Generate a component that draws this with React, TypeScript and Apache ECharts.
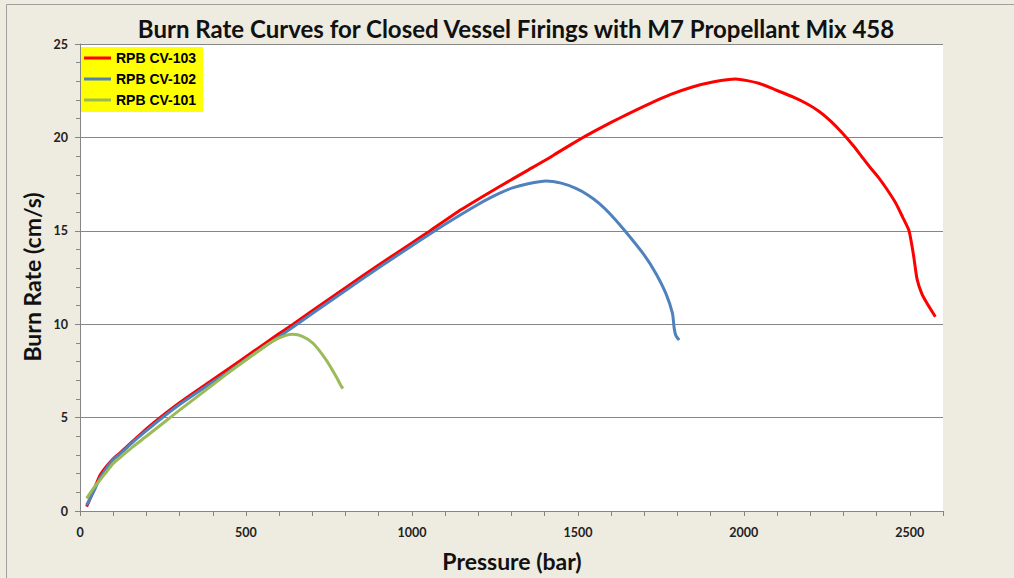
import React, { useEffect, useRef } from "react";
import * as echarts from "echarts";

const seriesNames = ["RPB CV-103", "RPB CV-102", "RPB CV-101"];
const seriesColors = ["#FF0000", "#4F81BD", "#9BBB59"];

const cv103: [number, number][] = [
  [20, 0.23], [40, 1.05], [60, 1.9], [80, 2.4], [100, 2.8], [120, 3.1], [160, 3.75],
  [200, 4.4], [241, 5.0], [300, 5.8], [381, 6.8], [451, 7.65], [521, 8.52], [600, 9.5],
  [642, 10.0], [702, 10.75], [800, 11.95], [902, 13.2], [1000, 14.35], [1053, 14.98],
  [1150, 16.15], [1263, 17.36], [1350, 18.25], [1404, 18.8], [1444, 19.24], [1514, 19.98],
  [1560, 20.43], [1600, 20.8], [1650, 21.25], [1715, 21.8], [1780, 22.3], [1845, 22.7],
  [1910, 22.98], [1975, 23.13], [2045, 22.9], [2100, 22.51], [2146, 22.18], [2190, 21.8],
  [2226, 21.4], [2260, 20.9], [2296, 20.25], [2330, 19.55], [2356, 18.95], [2380, 18.4],
  [2406, 17.85], [2430, 17.25], [2457, 16.5], [2478, 15.75], [2497, 15.04], [2505, 14.35],
  [2512, 13.6], [2522, 12.4], [2537, 11.6], [2555, 11.03], [2577, 10.4],
];

const cv102: [number, number][] = [
  [20, 0.32], [40, 1.0], [60, 1.75], [80, 2.3], [100, 2.75], [120, 3.05], [160, 3.7],
  [200, 4.3], [241, 4.9], [300, 5.7], [381, 6.68], [451, 7.5], [521, 8.38], [600, 9.33],
  [642, 9.85], [702, 10.6], [800, 11.8], [902, 13.05], [1000, 14.2], [1100, 15.35],
  [1203, 16.45], [1263, 17.0], [1303, 17.3], [1350, 17.52], [1404, 17.67], [1450, 17.55],
  [1494, 17.27], [1530, 16.92], [1564, 16.47], [1600, 15.85], [1644, 14.95], [1700, 13.7],
  [1735, 12.72], [1765, 11.65], [1785, 10.58], [1790, 9.8], [1795, 9.4], [1805, 9.15],
];

const cv101: [number, number][] = [
  [20, 0.68], [40, 1.2], [60, 1.66], [80, 2.1], [100, 2.55], [130, 3.0], [160, 3.45],
  [200, 4.0], [250, 4.7], [300, 5.4], [381, 6.5], [451, 7.45], [521, 8.35], [581, 9.1],
  [620, 9.4], [642, 9.46], [670, 9.35], [702, 8.98], [742, 8.08], [772, 7.19], [785, 6.75],
  [792, 6.55],
];

const seriesData = [cv103, cv102, cv101];

const titleText = "Burn Rate Curves for Closed Vessel Firings with M7 Propellant Mix 458";
const xTitle = "Pressure (bar)";
const yTitle = "Burn Rate (cm/s)";

export default function App() {
  const ref = useRef<HTMLDivElement>(null);
  useEffect(() => {
    if (!ref.current) return;
    const chart = echarts.init(ref.current, undefined, { renderer: "svg" });
    const axisGray = "#868686";
    const font = "Lato";
    chart.setOption({
      animation: false,
      backgroundColor: "#EEEBE0",
      grid: {
        left: 80, right: 71, top: 44, bottom: 67,
        show: true, backgroundColor: "#FFFFFF", borderWidth: 0,
      },
      legend: {
        orient: "vertical",
        left: 84, top: 50, padding: 0, itemGap: 5,
        itemWidth: 27, itemHeight: 3, icon: "rect",
        data: seriesNames,
        textStyle: { fontFamily: "Liberation Sans", fontWeight: "bold", fontSize: 14, lineHeight: 16, color: "#000" },
        z: 5,
      },
      xAxis: {
        type: "value", min: 0, max: 2600, interval: 100,
        axisLine: { lineStyle: { color: axisGray } },
        axisTick: { length: 5, lineStyle: { color: axisGray } },
        axisLabel: {
          margin: 15,
          fontFamily: font, fontWeight: "bold", fontSize: 12.5, color: "#222",
          formatter: (v: number) => (v % 500 === 0 ? String(v) : ""),
        },
        splitLine: { show: false },
      },
      yAxis: {
        type: "value", min: 0, max: 25, interval: 5,
        axisLine: { show: true, lineStyle: { color: axisGray } },
        axisTick: { show: true, length: 5, lineStyle: { color: axisGray } },
        minorTick: { show: true, splitNumber: 5, length: 4, lineStyle: { color: axisGray } },
        axisLabel: { margin: 12, fontFamily: font, fontWeight: "bold", fontSize: 12.5, color: "#222" },
        splitLine: { show: true, lineStyle: { color: axisGray, width: 1 } },
      },
      graphic: [
        { type: "line", shape: { x1: 6.5, y1: 4.5, x2: 6.5, y2: 578 }, style: { stroke: "#A0A0A0", lineWidth: 1 } },
        { type: "line", shape: { x1: 6.5, y1: 4.5, x2: 1014, y2: 4.5 }, style: { stroke: "#A0A0A0", lineWidth: 1 } },
        { type: "rect", shape: { x: 81, y: 47, width: 122, height: 65 }, style: { fill: "#FFFF00" }, z: 3 },
        {
          type: "text", x: 516, y: 28,
          style: { text: titleText, fontFamily: font, fontWeight: "bold", fontSize: 24, fill: "#111", align: "center", verticalAlign: "middle" },
        },
        {
          type: "text", x: 512, y: 561,
          style: { text: xTitle, fontFamily: font, fontWeight: "bold", fontSize: 23, fill: "#111", align: "center", verticalAlign: "middle" },
        },
        {
          type: "text", x: 32, y: 277, rotation: Math.PI / 2,
          style: { text: yTitle, fontFamily: font, fontWeight: "bold", fontSize: 23, fill: "#111", align: "center", verticalAlign: "middle" },
        },
      ],
      series: seriesNames.map((name, i) => ({
        name,
        type: "line",
        data: seriesData[i],
        symbol: "none",
        smooth: 0.2,
        lineStyle: { color: seriesColors[i], width: 3 },
        itemStyle: { color: seriesColors[i] },
      })),
    });
    return () => chart.dispose();
  }, []);
  return <div ref={ref} style={{ position: "fixed", left: 0, top: 0, width: 1014, height: 578 }} />;
}
